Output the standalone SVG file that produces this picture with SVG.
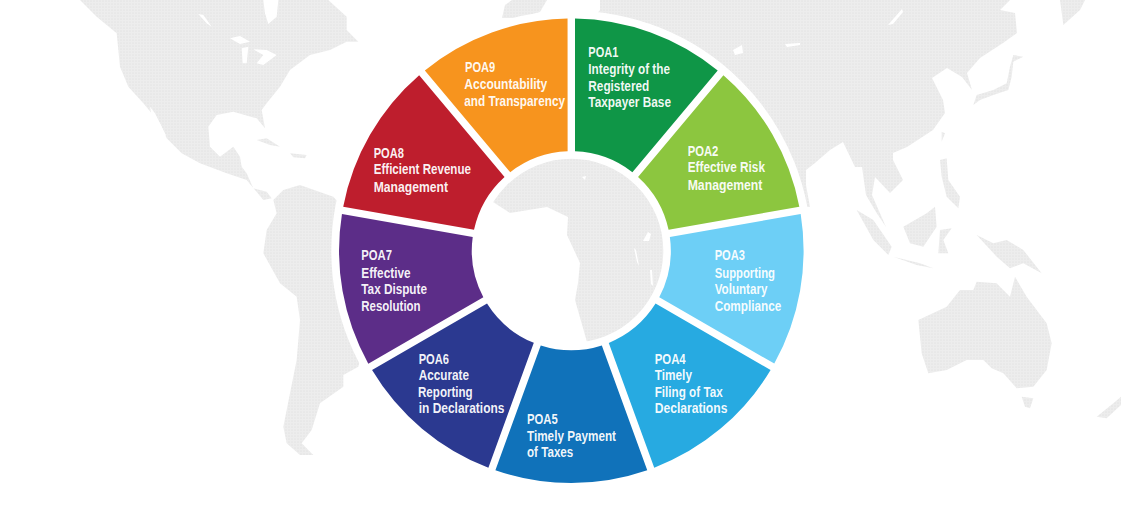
<svg xmlns="http://www.w3.org/2000/svg" width="1121" height="515" viewBox="0 0 1121 515">
<style>
.seg{stroke:none}
.t{font-family:"Liberation Sans",Arial,sans-serif;font-weight:700;font-size:14.2px;fill:#fff;fill-opacity:.95}
.land{fill:url(#dots)}
.land3{fill:url(#dots3)}
.hole{fill:#fff}
</style>
<defs>
<pattern id="dots" width="3" height="3" patternUnits="userSpaceOnUse"><rect width="3" height="3" fill="#ededed"/><circle cx="1" cy="1" r=".6" fill="#dadada"/></pattern>
<pattern id="dots3" width="9" height="9" patternUnits="userSpaceOnUse"><rect width="9" height="9" fill="#ededed"/><circle cx="3" cy="3" r="1.8" fill="#dadada"/></pattern>
</defs>
<rect width="1121" height="515" fill="#fff"/>
<g id="map">
<g transform="scale(.33333)">
<polygon class="land3" points="240,0 290,50 350,100 360,200 385,260 430,310 480,370 500,415 545,460 600,490 640,505 680,520 740,540 790,600 815,595 800,575 760,565 740,520 725,500 720,470 700,440 660,470 630,440 625,380 650,345 700,335 770,355 795,385 785,330 800,310 840,260 870,210 930,165 990,150 1040,125 1075,125 1040,90 1040,50 985,0"/>
<polygon class="hole" points="790,0 835,0 830,50 805,72 795,40"/>
<polygon class="hole" points="595,42 610,45 635,80 620,70"/>
<polygon class="hole" points="690,115 720,108 750,125 720,132"/>
<polygon class="hole" points="725,145 745,140 740,190 728,190"/>
<polygon class="hole" points="760,148 800,150 830,165 790,195 770,190 790,165"/>
<polygon class="hole" points="450,320 465,340 500,410 480,390 455,350"/>
<polygon class="land3" points="770,420 800,415 840,440 810,435"/>
<polygon class="land3" points="870,460 920,465 915,475 880,472"/>
<polygon class="land3" points="800,690 830,640 820,600 850,570 900,555 1000,590 1100,700 1100,1000 1075,1100 1030,1125 1030,1160 960,1210 935,1290 905,1330 940,1365 900,1365 860,1330 850,1280 870,1180 890,1080 900,960 890,890 840,850 790,760"/>
</g>
<polygon class="land" points="600,0 1010,0 1000,10 1015,13 1017,33 1003,43 980,58 967,73 972,90 962,77 947,68 932,78 943,100 945,113 933,130 907,147 893,153 893,160 903,180 890,193 875,177 872,195 886,227 876,212 866,195 862,167 855,167 843,142 830,150 815,163 806,170 806,185 810,207 806,207 795,195 780,260 700,340 620,345 587,342 575,300 578,283 580,263 567,235 568,217 547,207 510,213 493,202 470,170 450,100 500,40 545,22 590,22 600,10"/>
<polygon class="land" points="502,18 505,5 512,0 547,0 540,12 520,18"/>
<polygon class="hole" points="733,50 742,45 743,53 735,55"/>
<polygon class="hole" points="785,44 800,43 800,45 787,47"/>
<polygon class="hole" points="643,241 648,232 651,234 649,241"/>
<polygon class="hole" points="634,248 636,250 639,266 637,262"/>
<polygon class="hole" points="650,270 652,270 653,286 651,284"/>
<polygon class="hole" points="582,177 586,176 585,180"/>
<polygon class="hole" points="902,9 903,12 893,24 888,25"/>
<g transform="translate(760,0) scale(.33333)">
<polygon class="land3" points="900,0 975,0 960,30 910,75"/>
<polygon class="land3" points="640,315 650,285 700,270 740,250 750,200 760,165 790,170 760,185 755,230 745,270 700,285 660,300"/>
<polygon class="land3" points="290,630 340,660 395,740 385,765 340,720"/>
<polygon class="land3" points="400,770 480,790 520,805 470,795"/>
<polygon class="land3" points="430,680 500,640 525,620 530,680 490,740 450,730"/>
<polygon class="land3" points="540,690 575,685 550,720 565,760 535,760"/>
<polygon class="land3" points="650,705 700,730 740,720 790,750 845,820 790,790 750,805 710,770"/>
<polygon class="land3" points="540,480 560,475 565,540 600,590 595,625 560,590 545,530"/>
<polygon class="land3" points="545,395 555,400 545,425"/>
<polygon class="land3" points="475,960 560,920 600,870 640,870 650,845 710,850 750,890 765,830 800,890 860,970 875,1030 860,1110 820,1160 770,1165 730,1120 695,1105 670,1080 620,1080 560,1110 505,1120 485,1060"/>
<polygon class="land3" points="785,1190 820,1195 810,1225 795,1220"/>
<polygon class="land3" points="1010,1250 1060,1210 1083,1190 1083,1215 1040,1255"/>
</g>
</g>
<circle id="ring" cx="571.3" cy="250.7" r="166" fill="none" stroke="#fff" stroke-width="148"/>
<g id="poa1"><path class="seg" fill="#0f9647" d="M575 18.43A232.3 232.3 0 0 1 717.7 70.4L632.4 172.15A99.5 99.5 0 0 0 575 151.27Z"/>
<text class="t" x="588.3" y="57.3" textLength="30" lengthAdjust="spacingAndGlyphs">POA1</text>
<text class="t" x="588.3" y="74" textLength="81.7" lengthAdjust="spacingAndGlyphs">Integrity of the</text>
<text class="t" x="588.3" y="90.7" textLength="61" lengthAdjust="spacingAndGlyphs">Registered</text>
<text class="t" x="588.3" y="107" textLength="82.7" lengthAdjust="spacingAndGlyphs">Taxpayer Base</text></g>
<g id="poa2"><path class="seg" fill="#8cc63f" transform="rotate(40 571.3 250.7)" d="M575 18.43A232.3 232.3 0 0 1 717.7 70.4L632.4 172.15A99.5 99.5 0 0 0 575 151.27Z"/>
<text class="t" x="687.7" y="155.7" textLength="30.7" lengthAdjust="spacingAndGlyphs">POA2</text>
<text class="t" x="687.7" y="172.3" textLength="77.3" lengthAdjust="spacingAndGlyphs">Effective Risk</text>
<text class="t" x="687.7" y="189.7" textLength="74.7" lengthAdjust="spacingAndGlyphs">Management</text></g>
<g id="poa3"><path class="seg" fill="#6dcff6" transform="rotate(80 571.3 250.7)" d="M575 18.43A232.3 232.3 0 0 1 717.7 70.4L632.4 172.15A99.5 99.5 0 0 0 575 151.27Z"/>
<text class="t" x="714.7" y="260" textLength="30.3" lengthAdjust="spacingAndGlyphs">POA3</text>
<text class="t" x="714.7" y="277.7" textLength="60.3" lengthAdjust="spacingAndGlyphs">Supporting</text>
<text class="t" x="714.7" y="294.3" textLength="52.7" lengthAdjust="spacingAndGlyphs">Voluntary</text>
<text class="t" x="714.7" y="310.7" textLength="66.7" lengthAdjust="spacingAndGlyphs">Compliance</text></g>
<g id="poa4"><path class="seg" fill="#27aae1" transform="rotate(120 571.3 250.7)" d="M575 18.43A232.3 232.3 0 0 1 717.7 70.4L632.4 172.15A99.5 99.5 0 0 0 575 151.27Z"/>
<text class="t" x="654.7" y="363.7" textLength="31" lengthAdjust="spacingAndGlyphs">POA4</text>
<text class="t" x="654.7" y="380.3" textLength="37.3" lengthAdjust="spacingAndGlyphs">Timely</text>
<text class="t" x="654.7" y="397" textLength="68" lengthAdjust="spacingAndGlyphs">Filing of Tax</text>
<text class="t" x="654.7" y="413.3" textLength="72.7" lengthAdjust="spacingAndGlyphs">Declarations</text></g>
<g id="poa5"><path class="seg" fill="#1072ba" transform="rotate(160 571.3 250.7)" d="M575 18.43A232.3 232.3 0 0 1 717.7 70.4L632.4 172.15A99.5 99.5 0 0 0 575 151.27Z"/>
<text class="t" x="527" y="424.3" textLength="30.7" lengthAdjust="spacingAndGlyphs">POA5</text>
<text class="t" x="527" y="441" textLength="89" lengthAdjust="spacingAndGlyphs">Timely Payment</text>
<text class="t" x="527" y="457.3" textLength="46.3" lengthAdjust="spacingAndGlyphs">of Taxes</text></g>
<g id="poa6"><path class="seg" fill="#2b3990" transform="rotate(200 571.3 250.7)" d="M575 18.43A232.3 232.3 0 0 1 717.7 70.4L632.4 172.15A99.5 99.5 0 0 0 575 151.27Z"/>
<text class="t" x="418.7" y="363.7" textLength="30.3" lengthAdjust="spacingAndGlyphs">POA6</text>
<text class="t" x="418.7" y="380.3" textLength="50.3" lengthAdjust="spacingAndGlyphs">Accurate</text>
<text class="t" x="418" y="397" textLength="54.7" lengthAdjust="spacingAndGlyphs">Reporting</text>
<text class="t" x="418.7" y="413.3" textLength="85.7" lengthAdjust="spacingAndGlyphs">in Declarations</text></g>
<g id="poa7"><path class="seg" fill="#5c2d88" transform="rotate(240 571.3 250.7)" d="M575 18.43A232.3 232.3 0 0 1 717.7 70.4L632.4 172.15A99.5 99.5 0 0 0 575 151.27Z"/>
<text class="t" x="361.3" y="260" textLength="30.7" lengthAdjust="spacingAndGlyphs">POA7</text>
<text class="t" x="361.3" y="277.7" textLength="49.3" lengthAdjust="spacingAndGlyphs">Effective</text>
<text class="t" x="361.3" y="294.3" textLength="65.7" lengthAdjust="spacingAndGlyphs">Tax Dispute</text>
<text class="t" x="361.3" y="310.7" textLength="59.3" lengthAdjust="spacingAndGlyphs">Resolution</text></g>
<g id="poa8"><path class="seg" fill="#be1e2d" transform="rotate(280 571.3 250.7)" d="M575 18.43A232.3 232.3 0 0 1 717.7 70.4L632.4 172.15A99.5 99.5 0 0 0 575 151.27Z"/>
<text class="t" x="373.7" y="157.7" textLength="30.3" lengthAdjust="spacingAndGlyphs">POA8</text>
<text class="t" x="373.7" y="174.3" textLength="97.3" lengthAdjust="spacingAndGlyphs">Efficient Revenue</text>
<text class="t" x="373.7" y="191.7" textLength="74.3" lengthAdjust="spacingAndGlyphs">Management</text></g>
<g id="poa9"><path class="seg" fill="#f7941e" transform="rotate(320 571.3 250.7)" d="M575 18.43A232.3 232.3 0 0 1 717.7 70.4L632.4 172.15A99.5 99.5 0 0 0 575 151.27Z"/>
<text class="t" x="465" y="71.7" textLength="30.3" lengthAdjust="spacingAndGlyphs">POA9</text>
<text class="t" x="464.3" y="89.3" textLength="83" lengthAdjust="spacingAndGlyphs">Accountability</text>
<text class="t" x="464.3" y="105.7" textLength="100.7" lengthAdjust="spacingAndGlyphs">and Transparency</text></g>
</svg>
